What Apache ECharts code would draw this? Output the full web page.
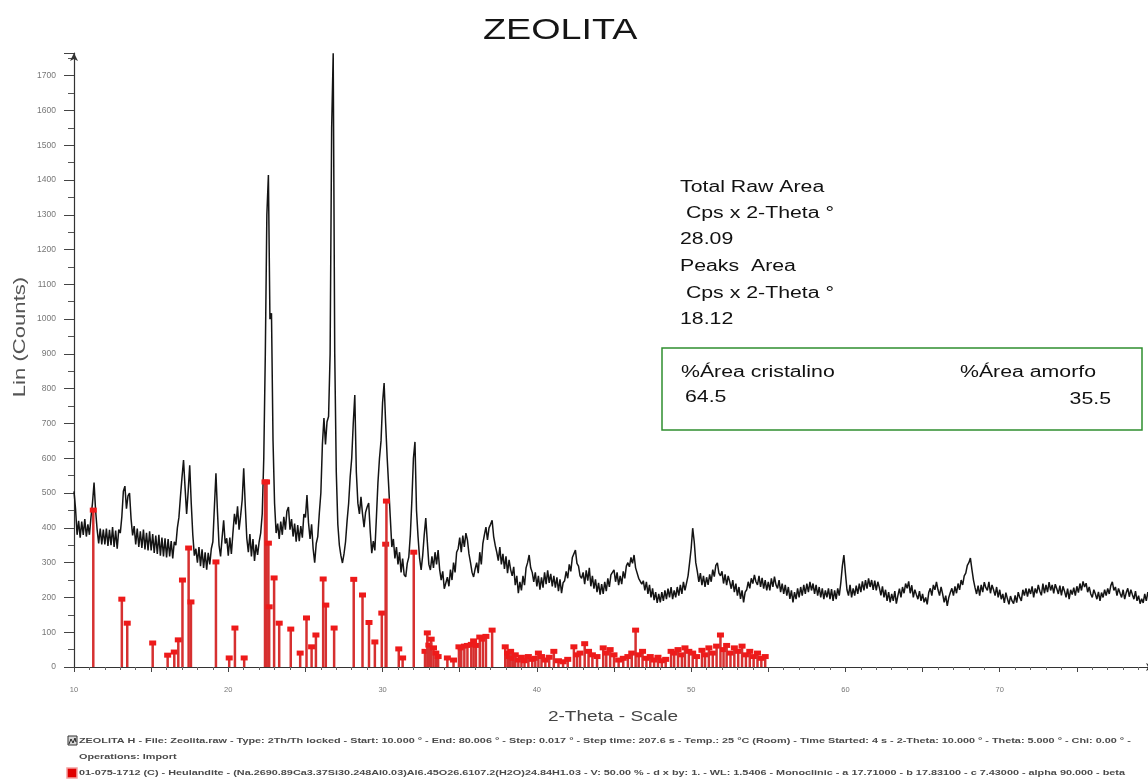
<!DOCTYPE html>
<html>
<head>
<meta charset="utf-8">
<script src="https://cdn.jsdelivr.net/npm/echarts@6/dist/echarts.min.js"></script>
<style>
  html, body { margin: 0; padding: 0; background: #ffffff; }
  #chart { width: 1148px; height: 780px; }
</style>
</head>
<body>
<div id="chart"></div>
<script>
// Measured scan: 2-Theta from 10.0 to 80.0 deg, one value every 0.1 deg (one row per degree)
const scanStart = 10.0;
const scanStep = 0.1;
const counts = [
  505, 455, 380, 420, 372, 418, 380, 425, 375, 410,   // 10
  380, 430, 472, 530, 450, 395, 355, 398, 352, 395,   // 11
  352, 398, 348, 394, 350, 402, 345, 392, 340, 395,   // 12
  385, 432, 505, 520, 455, 492, 500, 425, 378, 405,   // 13
  352, 398, 345, 390, 342, 395, 338, 386, 335, 390,   // 14
  335, 382, 328, 378, 325, 380, 320, 372, 318, 370,   // 15
  315, 368, 318, 362, 312, 360, 350, 400, 430, 490,   // 16
  545, 595, 515, 440, 505, 580, 470, 380, 320, 340,   // 17
  300, 345, 290, 338, 285, 330, 280, 328, 295, 340,   // 18
  360, 460, 557, 445, 350, 318, 372, 422, 355, 370,   // 19
  320, 372, 325, 385, 440, 410, 462, 395, 435, 480,   // 20
  571, 465, 370, 330, 382, 318, 368, 305, 352, 322,   // 21
  360, 385, 440, 600, 900, 1300, 1414, 1000, 1017, 650, // 22
  470, 385, 412, 368, 418, 380, 432, 395, 448, 460,   // 23
  395, 425, 375, 412, 360, 408, 362, 405, 372, 440,   // 24
  430, 494, 415, 368, 410, 340, 300, 355, 375, 442,   // 25
  500, 640, 716, 640, 705, 720, 900, 1550, 1764, 900, // 26
  560, 410, 350, 320, 299, 325, 360, 420, 470, 546,   // 27
  600, 700, 782, 560, 471, 440, 489, 440, 402, 445,   // 28
  460, 471, 390, 327, 362, 335, 430, 530, 600, 650,   // 29
  760, 816, 700, 600, 517, 430, 345, 368, 312, 345,   // 30
  295, 330, 272, 312, 265, 259, 298, 316, 380, 480,   // 31
  600, 647, 450, 374, 312, 279, 320, 380, 428, 360,   // 32
  295, 279, 318, 285, 330, 295, 336, 280, 250, 275,   // 33
  225, 221, 258, 232, 280, 250, 300, 272, 330, 340,   // 34
  372, 330, 378, 345, 385, 365, 325, 300, 272, 259,   // 35
  282, 300, 270, 330, 295, 355, 380, 402, 365, 400,   // 36
  410, 422, 375, 350, 330, 306, 345, 295, 325, 282,   // 37
  318, 270, 308, 280, 262, 288, 235, 262, 212, 245,   // 38
  220, 262, 235, 285, 300, 322, 285, 272, 245, 272,   // 39
  232, 262, 222, 258, 228, 272, 238, 278, 242, 268,   // 40
  232, 262, 228, 258, 218, 252, 212, 242, 248, 275,   // 41
  255, 295, 275, 315, 318, 336, 298, 290, 262, 255,   // 42
  272, 238, 278, 248, 285, 232, 262, 225, 252, 215,   // 43
  242, 208, 238, 210, 245, 218, 255, 230, 265, 270,   // 44
  279, 245, 272, 235, 262, 238, 275, 255, 290, 300,   // 45
  288, 315, 298, 322, 285, 280, 255, 250, 238, 248,   // 46
  220, 245, 210, 236, 200, 226, 192, 215, 184, 210,   // 47
  186, 215, 190, 220, 195, 225, 200, 230, 195, 220,   // 48
  200, 230, 205, 236, 210, 245, 220, 241, 262, 300,   // 49
  340, 399, 360, 300, 275, 245, 270, 235, 262, 230,   // 50
  258, 236, 266, 245, 280, 260, 292, 299, 270, 262,   // 51
  275, 240, 266, 235, 262, 245, 225, 250, 215, 240,   // 52
  205, 230, 196, 220, 186, 215, 222, 245, 226, 255,   // 53
  240, 265, 245, 236, 262, 230, 256, 225, 250, 220,   // 54
  245, 220, 255, 230, 260, 236, 226, 250, 215, 240,   // 55
  210, 236, 205, 230, 196, 220, 186, 215, 195, 226,   // 56
  200, 230, 205, 236, 210, 240, 215, 245, 220, 240,   // 57
  210, 236, 205, 230, 200, 226, 195, 220, 200, 226,   // 58
  195, 224, 190, 220, 195, 226, 205, 242, 290, 322,   // 59
  270, 222, 205, 236, 200, 226, 205, 234, 210, 240,   // 60
  215, 246, 220, 250, 225, 255, 230, 250, 222, 248,   // 61
  220, 245, 228, 206, 232, 200, 222, 190, 215, 186,   // 62
  210, 190, 218, 182, 205, 225, 200, 230, 212, 240,   // 63
  226, 246, 212, 235, 200, 222, 208, 195, 218, 190,   // 64
  210, 186, 200, 180, 214, 226, 205, 236, 222, 245,   // 65
  222, 205, 230, 210, 186, 205, 176, 200, 214, 226,   // 66
  205, 232, 212, 240, 222, 250, 236, 262, 270, 292,   // 67
  300, 313, 280, 250, 228, 210, 234, 205, 236, 215,   // 68
  244, 228, 220, 245, 212, 236, 222, 205, 230, 200,   // 69
  222, 195, 210, 184, 214, 196, 180, 204, 190, 182,   // 70
  206, 185, 215, 200, 190, 222, 205, 226, 202, 225,   // 71
  210, 232, 200, 226, 212, 236, 218, 206, 240, 212,   // 72
  236, 215, 244, 220, 236, 212, 238, 225, 210, 234,   // 73
  206, 232, 218, 200, 225, 195, 222, 208, 228, 205,   // 74
  232, 214, 240, 220, 246, 230, 241, 215, 230, 210,   // 75
  200, 222, 210, 195, 216, 190, 214, 200, 222, 205,   // 76
  226, 210, 234, 245, 220, 230, 205, 226, 212, 200,   // 77
  222, 195, 214, 226, 202, 222, 208, 195, 218, 190,   // 78
  205, 182, 196, 184, 210, 190, 215, 194, 210, 190,   // 79
  200                                                 // 80
];

// Heulandite reference lines (01-075-1712): position (2-Theta) and height (counts)
const stickAngles = [
  11.25, 13.10, 13.45, 15.10, 16.07, 16.50, 16.76, 17.03, 17.43, 17.58,
  19.20, 20.06, 20.43, 21.03, 22.38, 22.48, 22.60, 22.65, 22.97, 23.30,
  24.05, 24.66, 25.07, 25.40, 25.68, 26.15, 26.32, 26.86, 28.13, 28.70,
  29.12, 29.50, 29.95, 30.20, 30.25, 31.05, 31.30, 32.02,
  32.75, 32.90, 33.00, 33.15, 33.30, 33.45, 33.60, 34.20, 34.60, 34.95,
  35.10, 35.30, 35.50, 35.75, 35.90, 36.05, 36.30, 36.50, 36.70, 37.10,
  37.95, 38.10, 38.20, 38.30, 38.45, 38.60, 38.80, 39.00, 39.20, 39.45,
  39.70, 39.90, 40.10, 40.30, 40.55, 40.80, 41.10, 41.40, 41.70, 42.00,
  42.40, 42.60, 42.80, 43.10, 43.35, 43.60, 43.90, 44.30, 44.50, 44.75,
  45.00, 45.30, 45.60, 45.90, 46.15, 46.40, 46.60, 46.85, 47.10, 47.35,
  47.60, 47.85, 48.10, 48.35, 48.70, 48.90, 49.15, 49.40, 49.60, 49.85,
  50.10, 50.35, 50.70, 50.90, 51.15, 51.40, 51.65, 51.90, 52.10, 52.30,
  52.55, 52.80, 53.05, 53.30, 53.55, 53.80, 54.05, 54.30, 54.55, 54.80
];
const stickCounts = [
  451, 195, 126, 69, 34, 43, 78, 250, 342, 187,
  302, 26, 112, 26, 532, 532, 356, 173, 256, 126,
  109, 40, 141, 58, 92, 253, 178, 112, 252, 207,
  128, 72, 155, 353, 477, 52, 26, 330,
  45, 98, 63, 80, 55, 40, 30, 26, 20, 58,
  55, 60, 62, 65, 75, 62, 86, 80, 88, 106,
  58, 40, 30, 45, 25, 35, 20, 28, 18, 30,
  22, 25, 40, 30, 20, 28, 45, 18, 15, 22,
  58, 35, 40, 67, 45, 35, 30, 55, 40, 50,
  35, 20, 25, 30, 40, 106, 35, 45, 25, 30,
  20, 28, 18, 22, 45, 40, 50, 35, 55, 45,
  40, 30, 48, 35, 55, 40, 60, 92, 50, 62,
  40, 55, 45, 60, 35, 45, 30, 40, 25, 30
];

const countTicks = { min: 0, max: 1765, step: 100 };
const angleTicks = { min: 10, max: 80, step: 5, labelEvery: 10 };

const chartTitle = 'ZEOLITA';
const xTitle = '2-Theta - Scale';
const yTitle = 'Lin (Counts)';

const summaryLines = [
  'Total Raw Area',
  ' Cps x 2-Theta \u00b0',
  '28.09',
  'Peaks  Area',
  ' Cps x 2-Theta \u00b0',
  '18.12'
];
const crystalLabel = '%\u00c1rea cristalino';
const amorphLabel = '%\u00c1rea amorfo';
const crystalValue = '64.5';
const amorphValue = '35.5';

const footerLines = [
  'ZEOLITA H - File: Zeolita.raw - Type: 2Th/Th locked - Start: 10.000 \u00b0 - End: 80.006 \u00b0 - Step: 0.017 \u00b0 - Step time: 207.6 s - Temp.: 25 \u00b0C (Room) - Time Started: 4 s - 2-Theta: 10.000 \u00b0 - Theta: 5.000 \u00b0 - Chi: 0.00 \u00b0 -',
  'Operations: Import',
  '01-075-1712 (C) - Heulandite - (Na.2690.89Ca3.37Si30.248Al0.03)Al6.45O26.6107.2(H2O)24.84H1.03 - V: 50.00 % - d x by: 1. - WL: 1.5406 - Monoclinic - a 17.71000 - b 17.83100 - c 7.43000 - alpha 90.000 - beta'
];

const FONT = 'Liberation Sans, Arial, sans-serif';
// the plot's lettering is set wide; text is widened along its reading direction
const WIDE = 1.33;

const scan = counts.map((c, i) => [Math.round((scanStart + i * scanStep) * 10) / 10, c]);
const sticks = stickAngles.map((a, i) => [a, stickCounts[i]]);

const chart = echarts.init(document.getElementById('chart'), null, { renderer: 'canvas' });

function stickItem(params, api) {
  const x = api.value(0);
  const top = api.coord([x, api.value(1)]);
  const base = api.coord([x, 0]);
  return {
    type: 'group',
    children: [
      { type: 'line', shape: { x1: top[0], y1: top[1], x2: base[0], y2: base[1] },
        style: { stroke: '#d63030', lineWidth: 2.5 } },
      { type: 'rect', shape: { x: top[0] - 3.5, y: top[1] - 2.5, width: 7, height: 5 },
        style: { fill: '#ee1a1a' } }
    ]
  };
}

function wideText(text, x, y, size, opts) {
  const o = opts || {};
  return {
    type: 'text', x: x, y: y, scaleX: o.scale || WIDE, rotation: o.rotation || 0,
    style: {
      text: text, font: (o.weight ? o.weight + ' ' : '') + size + 'px ' + FONT,
      fill: o.color || '#111', align: o.align || 'left', verticalAlign: 'middle'
    }
  };
}

const summaryRows = [188, 214, 240, 267, 294, 320];
const graphics = [
  wideText(chartTitle, 483, 31, 29, { scale: 1.3, color: '#151515' }),
  wideText(xTitle, 613, 717, 15, { align: 'center', scale: 1.27, color: '#444' }),
  wideText(yTitle, 20, 337, 17, { align: 'center', scale: 1.3, color: '#555', rotation: Math.PI / 2 }),
  ...summaryLines.map((t, i) => wideText(t, 680, summaryRows[i], 16)),
  { type: 'rect', x: 662, y: 348, shape: { x: 0, y: 0, width: 480, height: 82 },
    style: { fill: 'none', stroke: '#2f8f2f', lineWidth: 1.5 } },
  wideText(crystalLabel, 681, 373, 16),
  wideText(amorphLabel, 960, 373, 16),
  wideText(crystalValue, 685, 398, 16),
  wideText(amorphValue, 1111, 400, 16, { align: 'right' }),
  // scan legend icon
  { type: 'rect', x: 68, y: 736, shape: { x: 0, y: 0, width: 9, height: 9 },
    style: { fill: '#d8d8d8', stroke: '#333', lineWidth: 1 } },
  { type: 'polyline', x: 69, y: 738, shape: { points: [[0, 6], [2, 1], [4, 5], [6, 0], [7, 4]] },
    style: { fill: 'none', stroke: '#222', lineWidth: 1 } },
  // reference pattern legend icon
  { type: 'rect', x: 67, y: 768, shape: { x: 0, y: 0, width: 10, height: 10 },
    style: { fill: '#e00000', stroke: '#f4a0a0', lineWidth: 1.5 } },
  ...footerLines.map((t, i) => wideText(t, 79, 741 + i * 16, 8, { weight: 'bold', scale: 1.355, color: '#4a4a4a' }))
];

chart.setOption({
  animation: false,
  backgroundColor: '#ffffff',
  grid: { left: 74, top: 53, width: 1080, height: 614, outerBoundsMode: 'none', containLabel: false },
  xAxis: {
    type: 'value', min: angleTicks.min, max: angleTicks.max, interval: angleTicks.step,
    axisLine: { show: true, symbol: ['none', 'arrow'], symbolSize: [6, 8], lineStyle: { color: '#333', width: 1.2 } },
    axisTick: { show: true, length: 5, lineStyle: { color: '#444' } },
    minorTick: { show: true, splitNumber: 5, length: 3, lineStyle: { color: '#666' } },
    axisLabel: {
      fontFamily: FONT, fontSize: 7.5, color: '#777', margin: 19,
      formatter: v => (v % angleTicks.labelEvery === 0 ? String(v) : '')
    },
    splitLine: { show: false }
  },
  yAxis: {
    type: 'value', min: countTicks.min, max: countTicks.max, interval: countTicks.step,
    axisLine: { show: true, symbol: ['none', 'arrow'], symbolSize: [6, 8], lineStyle: { color: '#333', width: 1.2 } },
    axisTick: { show: true, length: 10, lineStyle: { color: '#444' } },
    minorTick: { show: true, splitNumber: 2, length: 6, lineStyle: { color: '#555' } },
    axisLabel: {
      fontFamily: FONT, fontSize: 8.5, color: '#777', margin: 18,
      showMaxLabel: false,
      formatter: v => (v % countTicks.step === 0 ? String(v) : '')
    },
    splitLine: { show: false }
  },
  series: [
    {
      type: 'line', data: scan, showSymbol: false, z: 2,
      lineStyle: { color: '#141414', width: 1.5 }
    },
    {
      type: 'custom', data: sticks, renderItem: stickItem, z: 3,
      encode: { x: 0, y: 1 }
    }
  ],
  graphic: graphics
});
</script>
</body>
</html>
